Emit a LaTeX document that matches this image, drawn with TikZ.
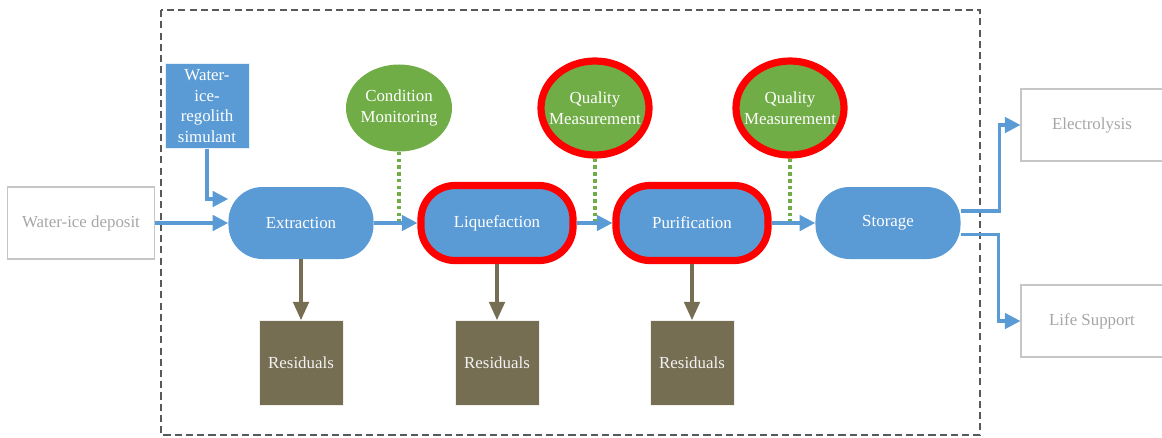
\documentclass[tikz,border=0pt]{standalone}
\usepackage{fontspec}
\setmainfont{Liberation Serif}
\usetikzlibrary{arrows.meta,shapes.geometric}
\definecolor{stepblue}{RGB}{91,155,213}
\definecolor{monigreen}{RGB}{112,173,71}
\definecolor{resbrown}{RGB}{118,110,83}
\definecolor{extgray}{RGB}{166,166,166}
\definecolor{framegray}{RGB}{89,89,89}

\begin{document}
\begin{tikzpicture}[x=0.025cm, y=-0.025cm,
    every node/.style={font=\fontsize{12}{14.6}\selectfont, inner sep=0pt, align=center},
    extbox/.style={draw=gray!45, line width=0.8pt, text=extgray, minimum width=3.55cm, minimum height=1.8cm},
    process/.style={rounded corners=0.85cm, fill=stepblue, text=white, minimum width=3.625cm, minimum height=1.8cm},
    critical/.style={process, draw=red, line width=0.18cm, minimum width=3.8cm, minimum height=1.875cm},
    monitor/.style={ellipse, fill=monigreen, text=white, inner sep=-1cm},
    checked/.style={monitor, draw=red, line width=0.18cm, minimum width=2.7cm, minimum height=2.35cm},
    residue/.style={fill=resbrown, draw=white!90!resbrown, text=white!95!black, minimum width=2.1cm, minimum height=2.125cm},
    flow/.style={draw=stepblue, line width=2.2pt, -{Triangle[width=11pt,length=11pt]}},
    waste/.style={draw=resbrown, line width=2.4pt, -{Triangle[width=11pt,length=13pt]}},
    probe/.style={draw=monigreen, line width=2.4pt, dash pattern=on 2.6pt off 2.2pt}]
  %%%%% START %%%%%
  \useasboundingbox (0,0) rectangle (1162,437);

  \draw[framegray, line width=0.8pt, dash pattern=on 5pt off 3pt] (161,10) rectangle (980,435);

  % inputs
  \node[extbox, minimum width=3.675cm] (deposit) at (81,223) {Water-ice deposit};
  \node[fill=stepblue, draw=white!85!stepblue, text=white, minimum width=2.1cm, minimum height=2.125cm] (simulant) at (207,106) {Water-\\ice-\\regolith\\simulant};

  % process chain
  \node[process] (extract) at (301,223) {Extraction};
  \node[critical] (liquefy) at (497,223) {Liquefaction};
  \node[critical] (purify) at (692,223) {Purification};
  \node[process] (store) at (888,223) {Storage};

  % monitoring
  \node[monitor, minimum width=2.65cm, minimum height=2.175cm] (condmon) at (399,108) {Condition\\Monitoring};
  \node[checked] (quality1) at (595,108) {Quality\\Measurement};
  \node[checked] (quality2) at (790,108) {Quality\\Measurement};

  % residuals
  \node[residue] (res1) at (301,363) {Residuals};
  \node[residue] (res2) at (497,363) {Residuals};
  \node[residue] (res3) at (692,363) {Residuals};

  % outputs
  \node[extbox] (elec) at (1092,125) {Electrolysis};
  \node[extbox] (life) at (1092,321) {Life Support};

  % connectors
  \draw[flow] (deposit) -- (extract);
  \draw[flow] (simulant.south) |- ([yshift=0.6cm]extract.west);
  \draw[flow] (extract) -- (liquefy);
  \draw[flow] (liquefy) -- (purify);
  \draw[flow] (purify) -- (store);

  \coordinate (tap1) at (399,221);
  \coordinate (tap2) at (595,221);
  \coordinate (tap3) at (790,221);
  \draw[probe] (condmon.south) -- (tap1);
  \draw[probe] (quality1.south) -- (tap2);
  \draw[probe] (quality2.south) -- (tap3);

  \draw[waste] (extract) -- (res1);
  \draw[waste] (liquefy) -- (res2);
  \draw[waste] (purify) -- (res3);

  \draw[flow] ([yshift=0.3cm]store.east) -- ++(39,0) |- (elec.west);
  \draw[flow] ([yshift=-0.28cm]store.east) -- ++(38,0) |- (life.west);
  %%%%% END %%%%%
\end{tikzpicture}
\end{document}
